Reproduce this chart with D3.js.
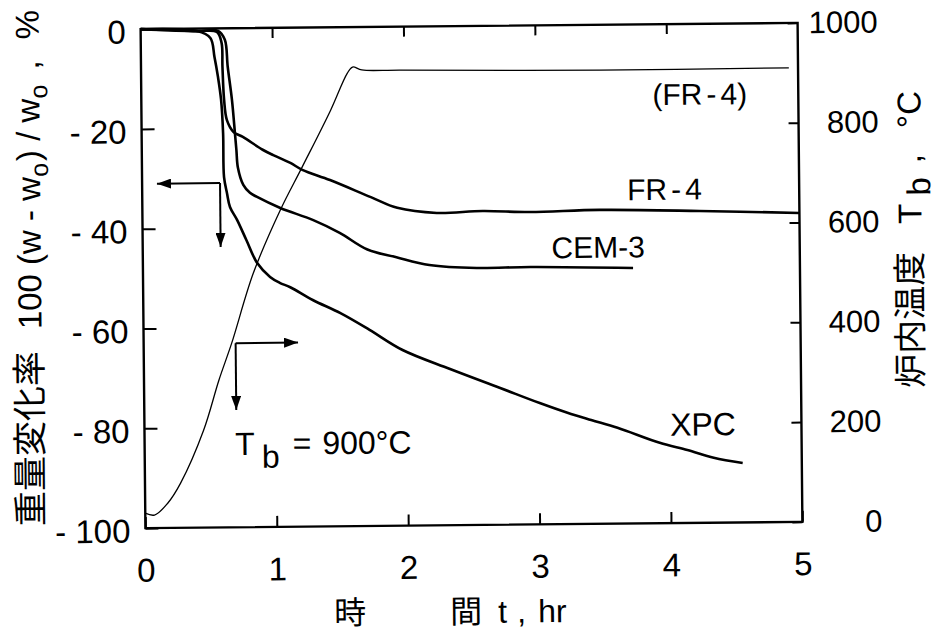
<!DOCTYPE html>
<html>
<head>
<meta charset="utf-8">
<script src="https://cdn.jsdelivr.net/npm/d3@7"></script>
<style>
body { margin: 0; background: #fff; }
text { font-family: "Liberation Sans", Arial, sans-serif; fill: #000; }
.jp { font-family: "Noto Sans CJK JP", sans-serif; }
</style>
</head>
<body>
<div id="chart"></div>
<script>
// furnace temperature (right axis)
const tempTime = [0, 0.07, 0.17, 0.27, 0.45, 0.57, 0.67, 0.84, 1.05, 1.22, 1.44, 1.57, 1.61, 1.68, 1.97, 3.49, 4.93];
const tempValue = [30, 26, 49, 89, 195, 295, 369, 509, 635, 721, 834, 908, 920, 914, 913, 909, 910];

// weight change, % (left axis)
const fr4Time = [0, 0.43, 0.58, 0.615, 0.62, 0.63, 0.65, 0.70, 0.77, 0.92, 1.00, 1.13, 1.22, 1.43, 1.74, 1.94, 2.24, 2.59, 2.95, 3.48, 4.24, 5.0];
const fr4Value = [0, -0.5, -0.7, -2.9, -7.7, -14.3, -18.4, -20.8, -21.8, -24.4, -25.5, -27.1, -28.5, -30.6, -34.1, -36.3, -37.4, -37.1, -37.4, -37.1, -37.5, -38.1];

const cemTime = [0, 0.43, 0.59, 0.64, 0.66, 0.69, 0.71, 0.72, 0.73, 0.77, 0.82, 0.87, 1.05, 1.30, 1.50, 1.71, 1.93, 2.18, 2.54, 2.95, 3.73];
const cemValue = [0, -0.5, -0.5, -2.3, -7.7, -14.4, -21.0, -24.4, -27.9, -31.4, -33.0, -33.8, -36.1, -38.6, -41.2, -44.6, -46.2, -47.8, -48.5, -48.4, -48.8];

const xpcTime = [0, 0.43, 0.53, 0.56, 0.585, 0.607, 0.62, 0.624, 0.645, 0.667, 0.72, 0.79, 0.87, 0.967, 1.04, 1.12, 1.29, 1.50, 1.72, 1.97, 2.33, 2.71, 3.01, 3.22, 3.40, 3.60, 3.92, 4.13, 4.33, 4.55];
const xpcValue = [0, -0.5, -1.9, -5.7, -9.7, -14.3, -21.0, -29.8, -33.0, -35.8, -38.4, -42.5, -47.1, -49.9, -51.1, -52.0, -54.6, -57.3, -60.7, -64.8, -68.7, -72.6, -75.7, -77.7, -79.2, -80.8, -83.9, -85.4, -87.0, -88.1];

const xTicks = [0, 1, 2, 3, 4, 5];
const leftTicks = [0, -20, -40, -60, -80, -100];
const rightTicks = [0, 200, 400, 600, 800, 1000];

const width = 947;
const height = 634;
const margin = { top: 26, right: 147, bottom: 109, left: 143 };

const svg = d3.select('#chart')
    .append('svg')
    .attr('width', width)
    .attr('height', height);

// scanned figure is a little tilted
const g = svg.append('g').attr('transform', 'rotate(-0.55, 471, 275)');

const x = d3.scaleLinear().domain([0, 5]).range([margin.left, width - margin.right]);
const yL = d3.scaleLinear().domain([-100, 0]).range([height - margin.bottom, margin.top]);
const yR = d3.scaleLinear().domain([0, 1000]).range([height - margin.bottom, margin.top]);

const defs = svg.append('defs');
defs.append('marker')
    .attr('id', 'head')
    .attr('viewBox', '0 0 14 10')
    .attr('refX', 14)
    .attr('refY', 5)
    .attr('markerWidth', 14)
    .attr('markerHeight', 10)
    .attr('markerUnits', 'userSpaceOnUse')
    .attr('orient', 'auto')
    .append('path')
    .attr('d', 'M0,0 L14,5 L0,10 Z')
    .attr('fill', '#000');

// axes
const styleAxis = size => sel => {
    sel.select('.domain').remove();
    sel.selectAll('line').attr('stroke', '#000').attr('stroke-width', 2);
    sel.selectAll('text').style('font-size', size + 'px').attr('fill', '#000');
};

g.append('g')
    .attr('transform', `translate(0, ${yL(-100)})`)
    .call(d3.axisBottom(x).tickValues(xTicks).tickSize(-11).tickPadding(30).tickFormat(d3.format('d')))
    .call(styleAxis(33));

g.append('g')
    .attr('transform', `translate(0, ${yL(0)})`)
    .call(d3.axisTop(x).tickValues([1, 2, 3, 4]).tickSize(-10).tickFormat(''))
    .call(styleAxis(33));

g.append('g')
    .attr('transform', `translate(${x(0)}, 0)`)
    .call(d3.axisLeft(yL).tickValues(leftTicks).tickSize(-13).tickPadding(15)
        .tickFormat(d => d === 0 ? '0' : '- ' + (-d)))
    .call(styleAxis(33))
    .selectAll('text').attr('dy', '0.42em');

g.append('g')
    .attr('transform', `translate(${x(5)}, 0)`)
    .call(d3.axisRight(yR).tickValues(rightTicks).tickSize(-10).tickFormat(d3.format('d')))
    .call(styleAxis(31))
    .selectAll('text').attr('x', 80).attr('text-anchor', 'end');

// frame
g.append('rect')
    .attr('x', x(0))
    .attr('y', yL(0))
    .attr('width', x(5) - x(0))
    .attr('height', yL(-100) - yL(0))
    .attr('fill', 'none')
    .attr('stroke', '#000')
    .attr('stroke-width', 2.4);

// curves
const curve = d3.curveCatmullRom.alpha(0.5);
const massLine = d3.line().x(d => x(d[0])).y(d => yL(d[1])).curve(curve);
const tempLine = d3.line().x(d => x(d[0])).y(d => yR(d[1])).curve(curve);

g.append('path')
    .datum(d3.zip(tempTime, tempValue))
    .attr('d', tempLine)
    .attr('fill', 'none')
    .attr('stroke', '#000')
    .attr('stroke-width', 1.3);

[[fr4Time, fr4Value], [cemTime, cemValue], [xpcTime, xpcValue]].forEach(([t, v]) => {
    g.append('path')
        .datum(d3.zip(t, v))
        .attr('d', massLine)
        .attr('fill', 'none')
        .attr('stroke', '#000')
        .attr('stroke-width', 2.6)
        .attr('stroke-linejoin', 'round');
});

// arrows
const arrow = (x1, y1, x2, y2) => g.append('line')
    .attr('x1', x1).attr('y1', y1).attr('x2', x2).attr('y2', y2)
    .attr('stroke', '#000').attr('stroke-width', 2)
    .attr('marker-end', 'url(#head)');

arrow(x(0.593), yL(-31), x(0.113), yL(-31));
arrow(x(0.593), yL(-31), x(0.593), yL(-43.8));
arrow(x(0.70), yL(-63.1), x(1.175), yL(-63.1));
arrow(x(0.70), yL(-63.1), x(0.70), yL(-76.5));

// curve labels
const label = (t, v, size) => g.append('text')
    .attr('x', x(t)).attr('y', yL(v))
    .style('font-size', size + 'px');

const frA = label(3.89, -16.2, 30);
frA.append('tspan').text('(FR');
frA.append('tspan').attr('dx', 4).text('-');
frA.append('tspan').attr('dx', 4).text('4)');
const frB = label(3.69, -35.2, 30);
frB.append('tspan').text('FR');
frB.append('tspan').attr('dx', 4).text('-');
frB.append('tspan').attr('dx', 4).text('4');
label(3.11, -46.7, 30).text('CEM-3');
label(4.0, -82.5, 32).text('XPC');

const tb = label(0.69, -85.5, 32);
tb.append('tspan').text('T');
tb.append('tspan').attr('dx', 7).attr('dy', 13).text('b');
tb.append('tspan').attr('dx', 13).attr('dy', -13).text('=');
tb.append('tspan').attr('dx', 11).text('900°C');

// axis titles
const lt = g.append('text')
    .attr('transform', 'translate(41, 522) rotate(-90)')
    .style('font-size', '33px');
lt.append('tspan').attr('class', 'jp').style('font-size', '35px').text('重量変化率');
lt.append('tspan').attr('dx', 22).text('100 (w - w');
lt.append('tspan').style('font-size', '25px').attr('dy', 8).text('o');
lt.append('tspan').attr('dy', -8).attr('dx', 2).text(')  / w');
lt.append('tspan').style('font-size', '25px').attr('dy', 8).text('o');
lt.append('tspan').attr('dy', -8).attr('dx', 6).text(' , ');
lt.append('tspan').attr('dx', 12).text('%');

const rt = g.append('text')
    .attr('transform', 'translate(922, 392) rotate(-90)')
    .style('font-size', '33px');
rt.append('tspan').attr('class', 'jp').style('font-size', '34px').text('炉内温度');
rt.append('tspan').attr('dx', 28).text('T');
rt.append('tspan').attr('dx', 8).attr('dy', 9).text('b');
rt.append('tspan').attr('dy', -9).attr('dx', 14).text(',');
rt.append('tspan').attr('dx', 26).text('°C');

const bt = g.append('text')
    .attr('x', 331).attr('y', 623)
    .style('font-size', '32px');
bt.append('tspan').attr('class', 'jp').text('時');
bt.append('tspan').attr('class', 'jp').attr('dx', 84).text('間');
bt.append('tspan').attr('dx', 16).text('t');
bt.append('tspan').attr('dx', 10).text(',');
bt.append('tspan').attr('dx', 12).text('hr');
</script>
</body>
</html>
